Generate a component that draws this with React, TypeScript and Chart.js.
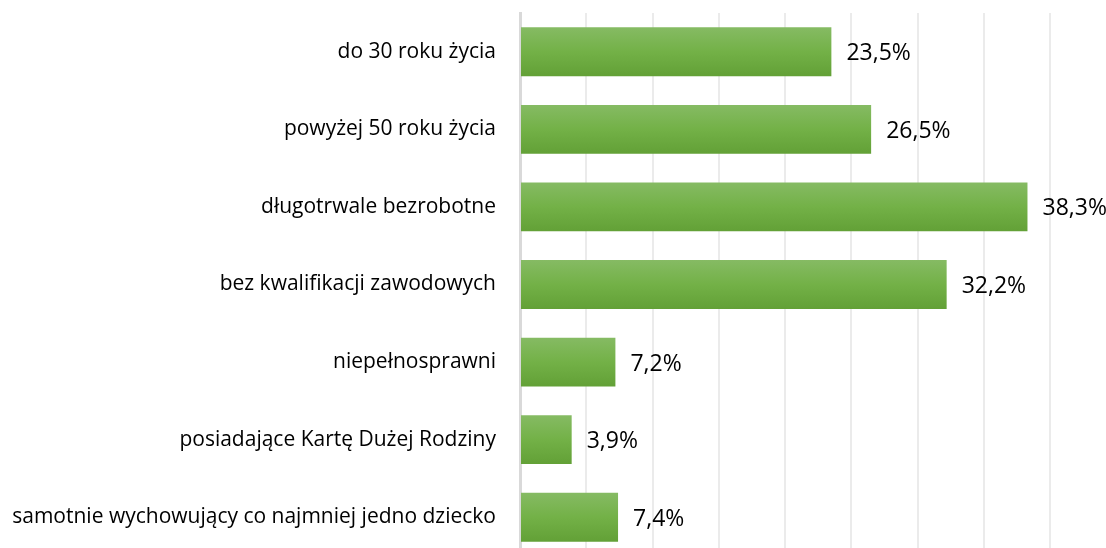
import React, { useEffect, useRef } from "react";
import { Chart, registerables } from "chart.js";

Chart.register(...registerables);

const categories = [
  "do 30 roku życia",
  "powyżej 50 roku życia",
  "długotrwale bezrobotne",
  "bez kwalifikacji zawodowych",
  "niepełnosprawni",
  "posiadające Kartę Dużej Rodziny",
  "samotnie wychowujący co najmniej jedno dziecko",
];
const values = [23.5, 26.5, 38.3, 32.2, 7.2, 3.9, 7.4];
const xMax = 40;
const xStep = 5;

const FONT = "'Open Sans', sans-serif";

const valueLabels = {
  id: "valueLabels",
  afterDatasetsDraw(chart: any) {
    const ctx = chart.ctx;
    const meta = chart.getDatasetMeta(0);
    ctx.save();
    ctx.font = `23px ${FONT}`;
    ctx.fillStyle = "#000";
    ctx.textAlign = "left";
    ctx.textBaseline = "middle";
    meta.data.forEach((bar: any, i: number) => {
      const txt = values[i].toFixed(1).replace(".", ",") + "%";
      ctx.fillText(txt, bar.x + 15, bar.y + 2);
    });
    ctx.restore();
  },
};

export default function App() {
  const ref = useRef<HTMLCanvasElement>(null);
  useEffect(() => {
    if (!ref.current) return;
    const chart = new Chart(ref.current, {
      type: "bar",
      data: {
        labels: categories,
        datasets: [
          {
            data: values,
            backgroundColor: (c: any) => {
              const ch = c.chart;
              const y = ch.scales && ch.scales.y;
              if (!y || c.dataIndex === undefined) return "#70ad47";
              const cy = y.getPixelForValue(c.dataIndex);
              if (!Number.isFinite(cy)) return "#70ad47";
              const g = ch.ctx.createLinearGradient(0, cy - 25, 0, cy + 25);
              g.addColorStop(0, "#86bb64");
              g.addColorStop(0.5, "#73b147");
              g.addColorStop(1, "#62a036");
              return g;
            },
            borderWidth: 0,
            categoryPercentage: 1,
            barPercentage: 0.63,
          },
        ],
      },
      options: {
        indexAxis: "y",
        animation: false,
        responsive: false,
        maintainAspectRatio: false,
        layout: { padding: { top: 13, bottom: 0, left: 0, right: 56 } },
        plugins: { legend: { display: false }, tooltip: { enabled: false } },
        scales: {
          x: {
            min: 0,
            max: xMax,
            ticks: { display: false, stepSize: xStep },
            grid: { color: "#ebebeb", lineWidth: 2, drawTicks: false },
            border: { display: false },
            afterFit: (s: any) => {
              s.height = 0;
              s.paddingLeft = 0;
              s.paddingRight = 0;
            },
          },
          y: {
            ticks: {
              color: "#000",
              font: { family: FONT, size: 21 },
              padding: 24,
            },
            grid: { display: false, drawTicks: false },
            border: { color: "#d9d9d9", width: 3 },
            afterFit: (s: any) => {
              s.width = 520;
              s.paddingTop = 0;
              s.paddingBottom = 0;
            },
          },
        },
      },
      plugins: [valueLabels],
    });
    return () => chart.destroy();
  }, []);
  return (
    <div style={{ position: "fixed", left: 0, top: 0, width: 1106, height: 556 }}>
      <canvas ref={ref} width={1106} height={556} style={{ display: "block" }} />
    </div>
  );
}
